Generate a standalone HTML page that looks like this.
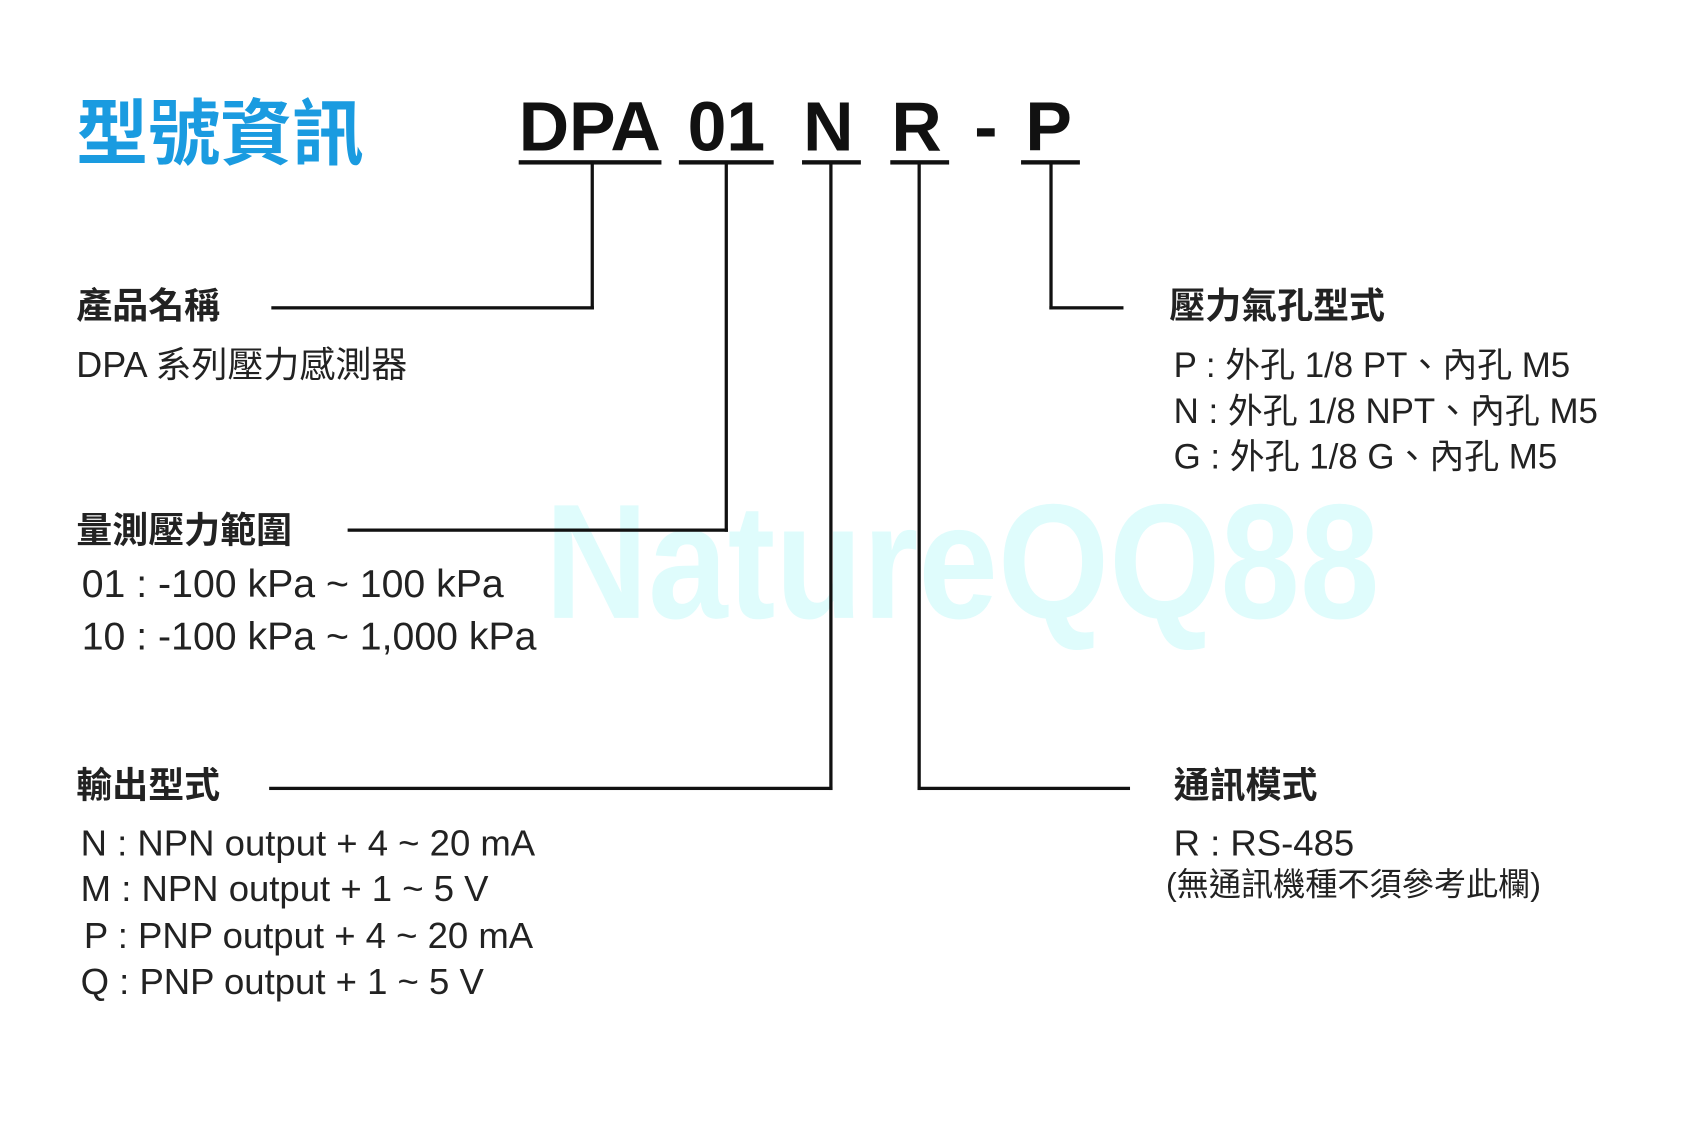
<!DOCTYPE html>
<html><head><meta charset="utf-8"><style>
html,body{margin:0;padding:0;background:#fff;width:1700px;height:1140px;overflow:hidden}
#w{position:absolute;left:0;top:0;width:1560px;height:1046px;transform:scale(1.0897);transform-origin:0 0;font-family:"Liberation Sans","Noto Sans CJK TC",sans-serif;color:#222}
.t{position:absolute;white-space:nowrap;line-height:1}
.b{font-weight:bold;color:#222}
.l{position:absolute;background:#111}
</style></head><body><div id="w">
<div class="t" style="left:500px;top:440px;font-size:150px;font-weight:bold;color:#dffcfc;transform:scaleX(0.875);transform-origin:0 0">NatureQQ88</div>
<div class="t" style="left:70px;top:90px;font-size:66px;font-weight:bold;color:#1a9be0">型號資訊</div>
<div class="t b" style="left:476px;top:84px;font-size:64px;color:#111">DPA</div>
<div class="t b" style="left:631px;top:84px;font-size:64px;color:#111">01</div>
<div class="t b" style="left:737px;top:84px;font-size:64px;color:#111">N</div>
<div class="t b" style="left:818px;top:84px;font-size:64px;color:#111">R</div>
<div class="t b" style="left:894px;top:84px;font-size:64px;color:#111">-</div>
<div class="t b" style="left:941px;top:84px;font-size:64px;color:#111">P</div>
<div class="l" style="left:476px;top:147px;width:131px;height:4px"></div>
<div class="l" style="left:623px;top:147px;width:87px;height:4px"></div>
<div class="l" style="left:736px;top:147px;width:54px;height:4px"></div>
<div class="l" style="left:817px;top:147px;width:54px;height:4px"></div>
<div class="l" style="left:937px;top:147px;width:54px;height:4px"></div>
<div class="l" style="left:542px;top:149px;width:3px;height:135px"></div>
<div class="l" style="left:249px;top:281px;width:296px;height:3px"></div>
<div class="l" style="left:665px;top:149px;width:3px;height:339px"></div>
<div class="l" style="left:319px;top:485px;width:349px;height:3px"></div>
<div class="l" style="left:761px;top:149px;width:3px;height:576px"></div>
<div class="l" style="left:247px;top:722px;width:517px;height:3px"></div>
<div class="l" style="left:842px;top:149px;width:3px;height:576px"></div>
<div class="l" style="left:842px;top:722px;width:195px;height:3px"></div>
<div class="l" style="left:963px;top:149px;width:3px;height:135px"></div>
<div class="l" style="left:963px;top:281px;width:68px;height:3px"></div>
<div class="t b" style="left:70px;top:264px;font-size:33px">產品名稱</div>
<div class="t" style="left:70px;top:318px;font-size:33px">DPA 系列壓力感測器</div>
<div class="t b" style="left:70px;top:470px;font-size:33px">量測壓力範圍</div>
<div class="t" style="left:75px;top:518px;font-size:36px">01 : -100 kPa ~ 100 kPa</div>
<div class="t" style="left:75px;top:566px;font-size:36px">10 : -100 kPa ~ 1,000 kPa</div>
<div class="t b" style="left:70px;top:704px;font-size:33px">輸出型式</div>
<div class="t" style="left:74px;top:758px;font-size:33.5px">N : NPN output + 4 ~ 20 mA</div>
<div class="t" style="left:74px;top:800px;font-size:33.5px">M : NPN output + 1 ~ 5 V</div>
<div class="t" style="left:77px;top:843px;font-size:33.5px">P : PNP output + 4 ~ 20 mA</div>
<div class="t" style="left:74px;top:885px;font-size:33.5px">Q : PNP output + 1 ~ 5 V</div>
<div class="t b" style="left:1073px;top:264px;font-size:33px">壓力氣孔型式</div>
<div class="t" style="left:1077px;top:319px;font-size:32px">P : 外孔 1/8 PT、內孔 M5</div>
<div class="t" style="left:1077px;top:361px;font-size:32px">N : 外孔 1/8 NPT、內孔 M5</div>
<div class="t" style="left:1077px;top:403px;font-size:32px">G : 外孔 1/8 G、內孔 M5</div>
<div class="t b" style="left:1077px;top:704px;font-size:33px">通訊模式</div>
<div class="t" style="left:1077px;top:758px;font-size:33.5px">R : RS-485</div>
<div class="t" style="left:1070px;top:798px;font-size:29.5px">(無通訊機種不須參考此欄)</div>
</div></body></html>
